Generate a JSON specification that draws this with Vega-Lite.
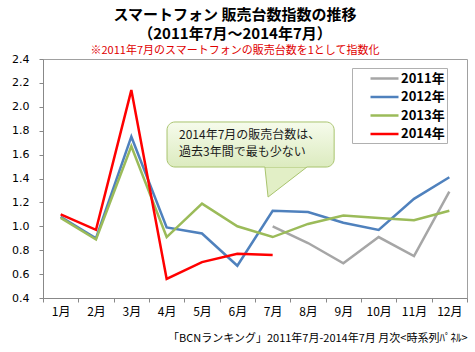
{
  "$schema": "https://vega.github.io/schema/vega-lite/v6.json",
  "autosize": "none",
  "width": 424,
  "height": 239,
  "padding": {"top": 59, "left": 43, "right": 8, "bottom": 54},
  "background": "white",
  "config": {
    "font": "Noto Sans CJK JP",
    "view": {"stroke": "#a0a0a0", "strokeWidth": 1},
    "axis": {"labelOverlap": false, "labelFlush": false, "grid": false},
    "axisX": {"labelOverlap": false, "labelBound": false},
    "axisY": {"labelOverlap": false}
  },
  "title": {
    "text": ["スマートフォン 販売台数指数の推移", "（2011年7月～2014年7月）"],
    "fontSize": 15,
    "fontWeight": "bold",
    "lineHeight": 19,
    "color": "#000000",
    "anchor": "middle",
    "dx": -20,
    "offset": -3,
    "subtitle": "※2011年7月のスマートフォンの販売台数を1として指数化",
    "subtitleFontSize": 11,
    "subtitleColor": "#e00000",
    "subtitlePadding": 3
  },
  "layer": [
    {
      "data": {"values": [
        {"month": 7, "year": "2011年", "value": 1.00},
        {"month": 8, "year": "2011年", "value": 0.86},
        {"month": 9, "year": "2011年", "value": 0.69},
        {"month": 10, "year": "2011年", "value": 0.91},
        {"month": 11, "year": "2011年", "value": 0.75},
        {"month": 12, "year": "2011年", "value": 1.29},
        {"month": 1, "year": "2012年", "value": 1.08},
        {"month": 2, "year": "2012年", "value": 0.90},
        {"month": 3, "year": "2012年", "value": 1.75},
        {"month": 4, "year": "2012年", "value": 0.99},
        {"month": 5, "year": "2012年", "value": 0.94},
        {"month": 6, "year": "2012年", "value": 0.67},
        {"month": 7, "year": "2012年", "value": 1.13},
        {"month": 8, "year": "2012年", "value": 1.12},
        {"month": 9, "year": "2012年", "value": 1.03},
        {"month": 10, "year": "2012年", "value": 0.97},
        {"month": 11, "year": "2012年", "value": 1.23},
        {"month": 12, "year": "2012年", "value": 1.41},
        {"month": 1, "year": "2013年", "value": 1.07},
        {"month": 2, "year": "2013年", "value": 0.89},
        {"month": 3, "year": "2013年", "value": 1.67},
        {"month": 4, "year": "2013年", "value": 0.91},
        {"month": 5, "year": "2013年", "value": 1.19},
        {"month": 6, "year": "2013年", "value": 1.00},
        {"month": 7, "year": "2013年", "value": 0.91},
        {"month": 8, "year": "2013年", "value": 1.02},
        {"month": 9, "year": "2013年", "value": 1.09},
        {"month": 10, "year": "2013年", "value": 1.07},
        {"month": 11, "year": "2013年", "value": 1.05},
        {"month": 12, "year": "2013年", "value": 1.13},
        {"month": 1, "year": "2014年", "value": 1.10},
        {"month": 2, "year": "2014年", "value": 0.97},
        {"month": 3, "year": "2014年", "value": 2.14},
        {"month": 4, "year": "2014年", "value": 0.56},
        {"month": 5, "year": "2014年", "value": 0.70},
        {"month": 6, "year": "2014年", "value": 0.77},
        {"month": 7, "year": "2014年", "value": 0.76}
      ]},
      "mark": {"type": "line", "strokeWidth": 2.5},
      "encoding": {
        "x": {
          "field": "month", "type": "quantitative",
          "scale": {"domain": [0.5, 12.5], "nice": false, "zero": false},
          "axis": {
            "values": [0.5, 1.5, 2.5, 3.5, 4.5, 5.5, 6.5, 7.5, 8.5, 9.5, 10.5, 11.5, 12.5],
            "tickCount": 30,
            "labelExpr": "datum.value < 12 ? (datum.value + 0.5) + '月' : ''",
            "labelOffset": 17.67,
            "labelFlush": false,
            "labelOverlap": false,
            "labelBound": false,
            "labelFontSize": 12,
            "labelColor": "#000000",
            "labelPadding": 4,
            "tickSize": 4,
            "tickColor": "#888888",
            "domainColor": "#888888",
            "grid": false,
            "title": "「BCNランキング」2011年7月-2014年7月 月次<時系列ﾊﾟﾈﾙ>",
            "titleAnchor": "end",
            "titleFontSize": 11,
            "titleFontWeight": "normal",
            "titleColor": "#000000",
            "titlePadding": 15
          }
        },
        "y": {
          "field": "value", "type": "quantitative",
          "scale": {"domain": [0.4, 2.4], "nice": false, "zero": false},
          "axis": {
            "values": [0.4, 0.6, 0.8, 1.0, 1.2, 1.4, 1.6, 1.8, 2.0, 2.2, 2.4],
            "tickCount": 30,
            "format": ".1f",
            "labelOverlap": false,
            "labelFont": "DejaVu Sans",
            "labelFontSize": 11,
            "labelColor": "#000000",
            "labelPadding": 10,
            "tickSize": 4,
            "tickColor": "#888888",
            "domainColor": "#888888",
            "grid": false,
            "title": null
          }
        },
        "color": {
          "field": "year", "type": "nominal",
          "scale": {
            "domain": ["2011年", "2012年", "2013年", "2014年"],
            "range": ["#a6a6a6", "#4f81bd", "#9bbb59", "#ff0000"]
          },
          "legend": {
            "title": null,
            "orient": "none",
            "legendX": 309,
            "legendY": 9,
            "symbolType": "M-2,0H2",
            "symbolSize": 196,
            "symbolStrokeWidth": 2.5,
            "symbolOffset": 22,
            "labelFontSize": 13,
            "labelFontWeight": "bold",
            "labelColor": "#000000",
            "labelOffset": 8,
            "labelExpr": "datum.label + '  '",
            "rowPadding": 2.5,
            "padding": 2,
            "strokeColor": "#b0b0b0",
            "fillColor": "white"
          }
        }
      }
    },
    {
      "data": {"values": [{"x": 6.78, "y": 1.496}, {"x": 6.87, "y": 1.245}, {"x": 7.97, "y": 1.496}]},
      "mark": {"type": "area", "fill": "#e2efc6", "stroke": null, "orient": "vertical"},
      "encoding": {
        "x": {"field": "x", "type": "quantitative"},
        "y": {"field": "y", "type": "quantitative"},
        "y2": {"datum": 1.51}
      }
    },
    {
      "data": {"values": [{"x": 4.01, "x2": 8.74, "y": 1.873, "y2": 1.496}]},
      "mark": {
        "type": "rect", "cornerRadius": 8, "stroke": "#a9c46e", "strokeWidth": 1,
        "fill": {"gradient": "linear", "x1": 0, "y1": 0, "x2": 0, "y2": 1,
          "stops": [{"offset": 0, "color": "#f6fbec"}, {"offset": 1, "color": "#dcebbf"}]}
      },
      "encoding": {
        "x": {"field": "x", "type": "quantitative"},
        "x2": {"field": "x2"},
        "y": {"field": "y", "type": "quantitative"},
        "y2": {"field": "y2"}
      }
    },
    {
      "data": {"values": [{"x": 6.78, "y": 1.49}, {"x": 6.78, "y": 1.496}, {"x": 7.97, "y": 1.496}, {"x": 7.97, "y": 1.49}]},
      "mark": {"type": "area", "fill": "#dcebbf", "stroke": null},
      "encoding": {
        "x": {"field": "x", "type": "quantitative"},
        "y": {"field": "y", "type": "quantitative"},
        "y2": {"datum": 1.505}
      }
    },
    {
      "data": {"values": [{"x": 6.78, "y": 1.496, "o": 1}, {"x": 6.87, "y": 1.245, "o": 2}, {"x": 7.97, "y": 1.496, "o": 3}]},
      "mark": {"type": "line", "stroke": "#a9c46e", "strokeWidth": 1},
      "encoding": {
        "x": {"field": "x", "type": "quantitative"},
        "y": {"field": "y", "type": "quantitative"},
        "order": {"field": "o"}
      }
    },
    {
      "data": {"values": [
        {"x": 4.35, "y": 1.764, "t": "2014年7月の販売台数は、"},
        {"x": 4.35, "y": 1.622, "t": "過去3年間で最も少ない"}
      ]},
      "mark": {"type": "text", "align": "left", "baseline": "middle", "fontSize": 12, "color": "#1a1a1a"},
      "encoding": {
        "x": {"field": "x", "type": "quantitative"},
        "y": {"field": "y", "type": "quantitative"},
        "text": {"field": "t"}
      }
    }
  ]
}
